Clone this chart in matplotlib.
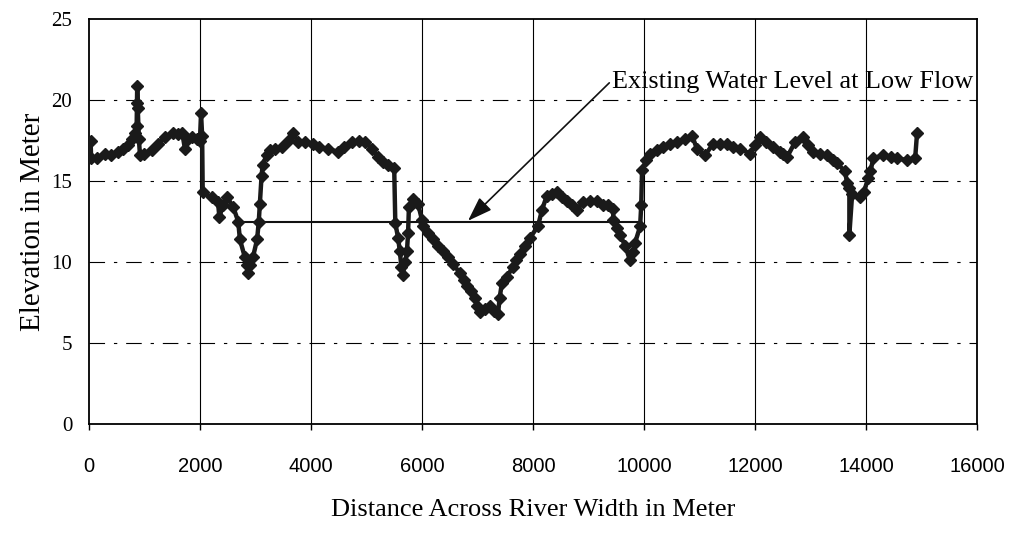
import numpy as np
import matplotlib.pyplot as plt

# surveyed river bed cross-section (distance in m, elevation in m)
dist = [30, 40, 150, 290, 400, 520, 620, 700, 780, 830, 860, 865, 870, 880, 900,
        920, 1000, 1135, 1250, 1370, 1510, 1600, 1680, 1730, 1780, 1860, 1950,
        2000, 2020, 2040, 2050, 2215, 2325, 2350, 2420, 2490, 2600, 2690, 2720,
        2810, 2850, 2870, 2900, 2955, 3030, 3060, 3080, 3110, 3130, 3200, 3260,
        3350, 3475, 3580, 3680, 3765, 3900, 4035, 4150, 4300, 4490, 4600, 4740,
        4860, 4975, 5100, 5210, 5300, 5390, 5500, 5520, 5570, 5600, 5630, 5650,
        5700, 5730, 5750, 5765, 5840, 5930, 6000, 6020, 6110, 6200, 6290, 6380,
        6470, 6560, 6685, 6750, 6810, 6880, 6955, 7000, 7045, 7130, 7225, 7300,
        7370, 7400, 7440, 7530, 7640, 7700, 7765, 7850, 7945, 8090, 8160, 8250,
        8340, 8430, 8520, 8610, 8700, 8790, 8900, 9030, 9150, 9265, 9360, 9440,
        9450, 9510, 9570, 9660, 9750, 9800, 9840, 9930, 9950, 9965, 10040, 10110,
        10230, 10345, 10470, 10595, 10730, 10865, 10955, 11100, 11245, 11370,
        11495, 11610, 11730, 11910, 12000, 12090, 12200, 12325, 12450, 12505,
        12580, 12720, 12865, 12950, 13045, 13170, 13300, 13400, 13480, 13620,
        13660, 13700, 13700, 13750, 13890, 13960, 14040, 14080, 14130, 14310,
        14450, 14560, 14740, 14885, 14920]
elev = [17.5, 16.4, 16.4, 16.7, 16.6, 16.8, 17.0, 17.2, 17.6, 18.0, 18.4, 19.8,
        20.9, 19.5, 17.6, 16.6, 16.7, 16.9, 17.3, 17.7, 18.0, 17.9, 18.0, 17.0,
        17.6, 17.7, 17.6, 17.5, 19.2, 17.8, 14.3, 14.0, 13.7, 12.8, 13.5, 14.0,
        13.4, 12.5, 11.4, 10.3, 9.8, 9.3, 9.8, 10.3, 11.4, 12.5, 13.6, 15.3,
        16.0, 16.6, 16.9, 17.0, 17.1, 17.5, 18.0, 17.4, 17.4, 17.3, 17.1, 17.0,
        16.8, 17.1, 17.4, 17.5, 17.4, 17.0, 16.5, 16.2, 16.0, 15.8, 12.4, 11.5,
        10.7, 9.7, 9.2, 10.0, 10.7, 11.8, 13.4, 13.9, 13.6, 12.6, 12.2, 11.8,
        11.4, 11.0, 10.7, 10.3, 9.9, 9.3, 8.9, 8.5, 8.2, 7.8, 7.3, 6.9, 7.1,
        7.3, 7.0, 6.8, 7.8, 8.7, 9.1, 9.7, 10.1, 10.5, 11.0, 11.5, 12.2, 13.2,
        14.1, 14.2, 14.3, 14.0, 13.8, 13.5, 13.2, 13.7, 13.8, 13.8, 13.5, 13.5,
        13.3, 12.6, 12.1, 11.7, 11.0, 10.1, 10.6, 11.2, 12.2, 13.5, 15.7, 16.3,
        16.7, 16.9, 17.1, 17.3, 17.4, 17.6, 17.8, 17.0, 16.6, 17.3, 17.3, 17.3,
        17.1, 17.0, 16.7, 17.2, 17.7, 17.4, 17.1, 16.8, 16.7, 16.5, 17.4, 17.7,
        17.2, 16.8, 16.7, 16.6, 16.3, 16.1, 15.6, 14.9, 14.6, 11.7, 14.2, 14.0,
        14.3, 15.2, 15.6, 16.4, 16.6, 16.5, 16.4, 16.3, 16.4, 18.0]

# low-flow water surface
water_x = [2700, 9900]
water_y = [12.5, 12.5]

xticks = np.arange(0, 16001, 2000)
yticks = np.arange(0, 26, 5)

fig = plt.figure(figsize=(10.22, 5.33), dpi=100)
ax = fig.add_axes([0.087, 0.2045, 0.869, 0.7595])

for v in xticks[1:-1]:
    ax.axvline(v, color='black', lw=0.8, zorder=1)
for h in yticks[1:-1]:
    ax.axhline(h, color='black', lw=0.8, ls=(0, (14, 8, 3, 8)), zorder=1)

ax.plot(water_x, water_y, color='#111111', lw=1.5, zorder=2)
ax.plot(dist, elev, color='#1a1a1a', lw=3.2, marker='D', ms=6, zorder=3)

ax.annotate('Existing Water Level at Low Flow', xy=(6830, 12.55), xytext=(9425, 21.1),
            fontsize=18.8, family='Liberation Serif', va='center', ha='left',
            arrowprops=dict(arrowstyle='-|>,head_length=0.8,head_width=0.28',
                            color='#111111', lw=1.2, shrinkA=0, shrinkB=0,
                            relpos=(0, 0.6)))

ax.set_xlim(0, 16000)
ax.set_ylim(0, 25)
ax.set_xticks(xticks)
ax.set_yticks(yticks)
for lab in ax.get_xticklabels():
    lab.set_family('Liberation Sans')
    lab.set_fontsize(14.5)
for lab in ax.get_yticklabels():
    lab.set_family('Liberation Serif')
    lab.set_fontsize(15)
ax.tick_params(axis='x', length=4, width=1, pad=20, direction='out')
ax.tick_params(axis='y', length=0, pad=12)

for s in ax.spines.values():
    s.set_linewidth(1.3)
    s.set_color('black')

ax.set_xlabel('Distance Across River Width in Meter', family='Liberation Serif',
              fontsize=19, labelpad=16)
ax.set_ylabel('Elevation in Meter', family='Liberation Serif', fontsize=21, labelpad=4)

fig.savefig('out.png', dpi=100)
